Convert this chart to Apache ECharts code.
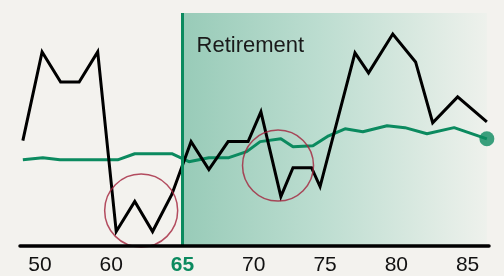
<!DOCTYPE html>
<html>
<head>
<meta charset="utf-8">
<script src="https://cdn.jsdelivr.net/npm/echarts@6/dist/echarts.min.js"></script>
<style>
    html, body { margin: 0; padding: 0; background: #f3f2ee; }
    #chart { width: 504px; height: 276px; }
</style>
</head>
<body>
<div id="chart"></div>
<script>
// x positions are in tick units: 0 = "50", 1 = "60", 2 = "65" ... 6 = "85"
const xTicks = ['50', '60', '65', '70', '75', '80', '85']
const retireTick = 2

// black line
const incomeX = [-0.24, 0.03, 0.29, 0.55, 0.81, 1.07, 1.33, 1.58, 1.85, 2.12, 2.37, 2.64, 2.92,
    3.10, 3.38, 3.55, 3.81, 3.93, 4.42, 4.61, 4.95, 5.27, 5.51, 5.86, 6.27]
const incomeY = [45.2, 83.3, 70.4, 70.4, 83.3, 6.2, 19.1, 6.2, 22.1, 44.8, 32.8, 44.8, 44.8,
    57.6, 21.2, 33.6, 33.6, 25.5, 82.9, 74.3, 91.0, 79.0, 52.9, 64.0, 53.3]

// green line
const spendX = [-0.24, 0.04, 0.28, 1.09, 1.33, 1.85, 2.09, 2.37, 2.65, 2.90, 3.09, 3.38, 3.55,
    3.83, 4.05, 4.28, 4.53, 4.87, 5.12, 5.43, 5.81, 6.27]
const spendY = [37.0, 37.9, 37.0, 37.0, 39.6, 39.6, 36.2, 37.9, 37.9, 40.5, 44.8, 46.0, 42.6,
    43.0, 47.3, 50.3, 49.0, 51.6, 50.8, 48.2, 50.8, 46.0]

// red highlight circles
const circleX = [1.42, 3.34]
const circleY = [15.2, 34.5]
const circleSize = [73, 71]

const green = '#0b8a5f'
const font = '"Liberation Sans", Arial, sans-serif'

const chart = echarts.init(document.getElementById('chart'))
chart.setOption({
    animation: false,
    backgroundColor: '#f3f2ee',
    grid: { left: 20, right: 15, top: 13, bottom: 29.5 },
    xAxis: {
        type: 'value',
        min: -0.28,
        max: 6.3,
        z: 10,
        splitLine: { show: false },
        axisTick: { show: false },
        axisLine: { lineStyle: { color: '#000', width: 3.5 } },
        axisLabel: {
            customValues: xTicks.map((t, i) => i),
            margin: 9,
            fontFamily: font,
            fontSize: 21,
            color: '#111',
            formatter: v => {
                const t = xTicks[Math.round(v)]
                return Math.round(v) === retireTick ? '{g|' + t + '}' : t
            },
            rich: {
                g: { color: green, fontWeight: 'bold', fontFamily: font, fontSize: 21 }
            }
        }
    },
    yAxis: { type: 'value', min: 0, max: 100, show: false },
    series: [{
        name: 'Spending',
        type: 'line',
        symbol: 'none',
        lineStyle: { color: green, width: 3 },
        data: spendX.map((x, i) => [x, spendY[i]]),
        z: 3,
        markArea: {
            silent: true,
            itemStyle: {
                color: new echarts.graphic.LinearGradient(0, 0, 1, 0, [
                    { offset: 0, color: '#98cbb8' },
                    { offset: 0.45, color: '#bcddd0' },
                    { offset: 1, color: '#eef1ec' }
                ])
            },
            label: {
                show: true,
                position: [14, 22],
                fontFamily: font,
                fontSize: 22,
                color: '#1a1a1a'
            },
            data: [[{ name: 'Retirement', xAxis: retireTick }, { xAxis: 'max' }]]
        },
        markLine: {
            silent: true,
            symbol: 'none',
            label: { show: false },
            lineStyle: { color: green, width: 3, type: 'solid' },
            data: [{ xAxis: retireTick }]
        }
    }, {
        name: 'Income',
        type: 'line',
        symbol: 'none',
        lineStyle: { color: '#000', width: 3, join: 'miter' },
        data: incomeX.map((x, i) => [x, incomeY[i]]),
        z: 4
    }, {
        name: 'Spending end',
        type: 'scatter',
        symbol: 'circle',
        symbolSize: 15,
        itemStyle: { color: green },
        data: [[spendX[spendX.length - 1], spendY[spendY.length - 1]]],
        z: 5
    }, {
        name: 'Highlights',
        type: 'scatter',
        symbol: 'circle',
        itemStyle: { color: 'rgba(0,0,0,0)', borderColor: '#a3223b', borderWidth: 1.5 },
        data: circleX.map((x, i) => ({ value: [x, circleY[i]], symbolSize: circleSize[i] })),
        z: 6
    }]
})
</script>
</body>
</html>
